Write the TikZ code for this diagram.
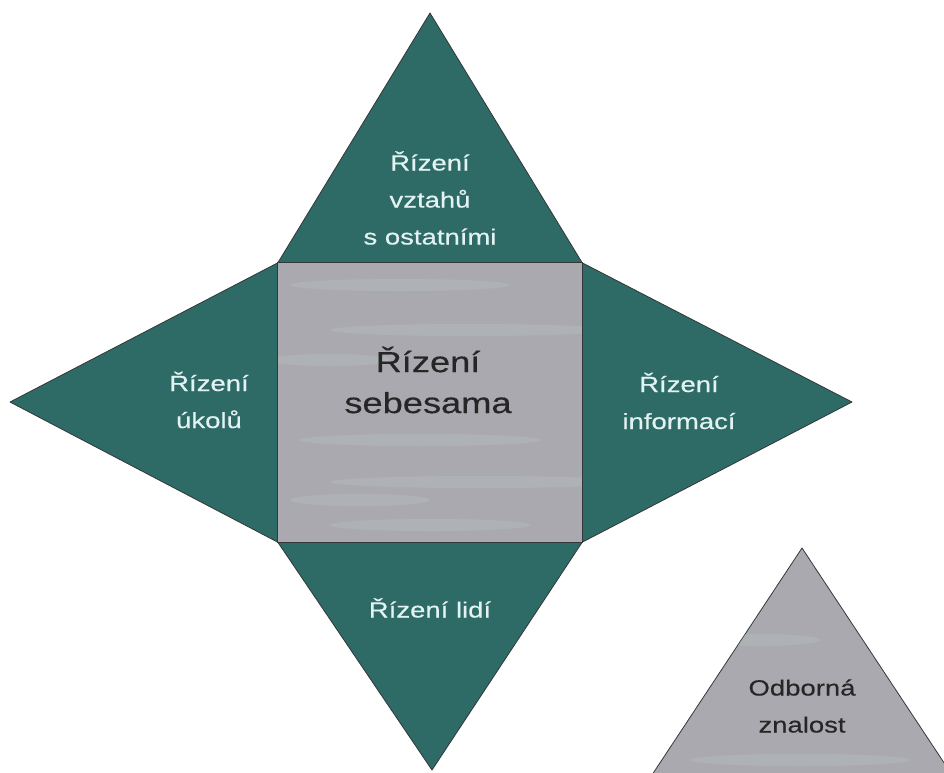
\documentclass[tikz,border=0pt]{standalone}
\usepackage{fontspec}
\setmainfont{Liberation Sans}
\newfontfamily\labelfont[FakeStretch=1.25,FakeBold=0.4]{Liberation Sans}
\usetikzlibrary{positioning}

\definecolor{tealface}{RGB}{46,106,102}
\definecolor{greyface}{RGB}{170,169,176}
\definecolor{edgegrey}{RGB}{50,56,56}
\definecolor{lighttext}{RGB}{226,243,241}
\definecolor{streak}{RGB}{196,212,198}

\tikzset{
  face/.style={fill=tealface, draw=edgegrey, line width=0.8pt, line join=round},
  core/.style={fill=greyface, draw=edgegrey, line width=1.2pt},
  onteal/.style={text=lighttext, align=center, inner sep=0pt,
    font=\labelfont\fontsize{22}{37}\selectfont},
  ongrey/.style={text=black!85, align=center, inner sep=0pt,
    font=\labelfont\fontsize{22}{37}\selectfont},
}

\begin{document}
\begin{tikzpicture}[x=1pt, y=-1pt]
\useasboundingbox (0,0) rectangle (944,772);
\clip (0,0) rectangle (944,772);

% the four points of the star
\coordinate (up) at (430,13);
\coordinate (lf) at (10,402);
\coordinate (rt) at (852,402);
\coordinate (dn) at (432,770);

% place of the square in the middle
\path node[minimum width=304pt, minimum height=279pt, inner sep=0pt] (self) at (430,402.5) {};

% the four triangles
\draw[face] (self.north west) -- (up) -- (self.north east) -- cycle;
\draw[face] (self.north west) -- (lf) -- (self.south west) -- cycle;
\draw[face] (self.north east) -- (rt) -- (self.south east) -- cycle;
\draw[face] (self.south west) -- (dn) -- (self.south east) -- cycle;

% the square, with some faint streaks in it
\draw[core] (self.north west) rectangle (self.south east);
\begin{scope}
  \clip (self.north west) rectangle (self.south east);
  \foreach \x/\y/\w in {400/285/110,470/330/140,330/360/60,420/440/120,
                        480/482/150,360/500/70,430/525/100} {
    \fill[streak, opacity=0.22] (\x,\y) ellipse (\w pt and 6pt);
  }
\end{scope}
\draw[core, fill=none] (self.north west) rectangle (self.south east);

% the small triangle down right
\coordinate (peak) at (802,548);
\draw[core, line width=0.8pt] (peak) -- (962,790) -- (642,790) -- cycle;
\begin{scope}
  \clip (peak) -- (962,790) -- (642,790) -- cycle;
  \foreach \x/\y/\w in {760/640/60,800/760/110} {
    \fill[streak, opacity=0.22] (\x,\y) ellipse (\w pt and 6pt);
  }
\end{scope}

% labels
\node[onteal] (relations) at (430,198) {Řízení\\vztahů\\s ostatními};
\node[onteal] (tasks) at (209,400) {Řízení\\úkolů};
\node[onteal] (info) at (679,401) {Řízení\\informací};
\node[onteal] (people) at (430,608) {Řízení lidí};
\node[ongrey, font=\labelfont\fontsize{29}{41}\selectfont] (selfname) at (428,380) {Řízení\\sebesama};
\node[ongrey] (expert) at (802,706) {Odborná\\znalost};

\end{tikzpicture}
\end{document}
